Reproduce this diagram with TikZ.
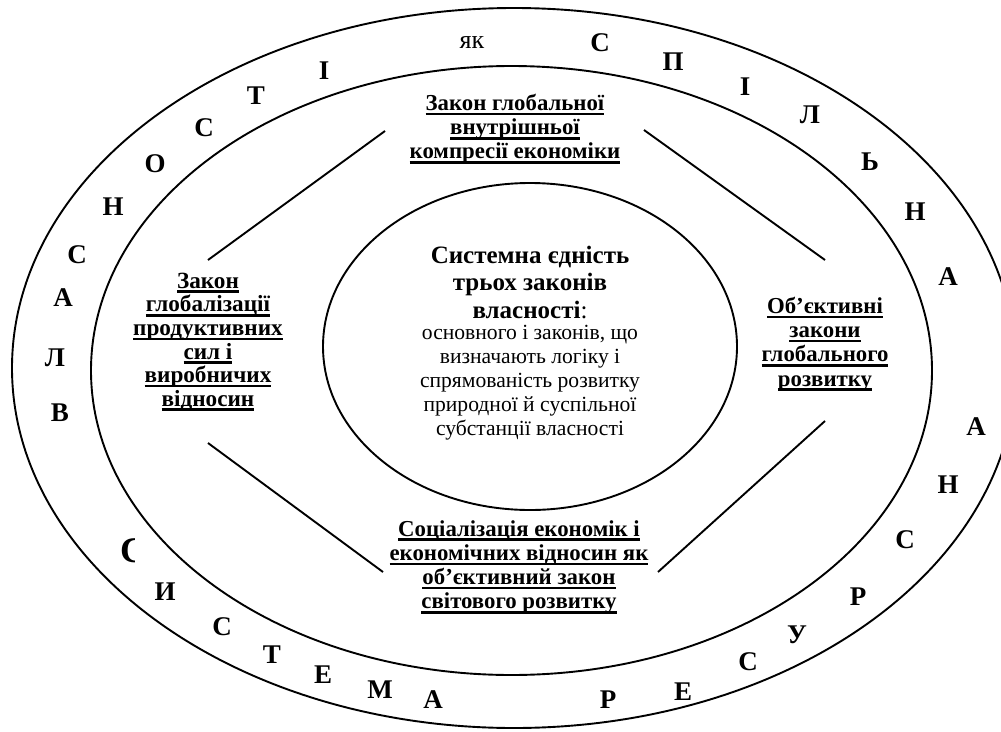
\documentclass[tikz,border=0pt]{standalone}
\usepackage{fontspec}
\setmainfont{Liberation Serif}
\newsavebox\ulbox
\newcommand\myul[1]{\sbox\ulbox{#1}\rlap{\rule[-4.8pt]{\wd\ulbox}{2.6pt}}\usebox\ulbox}
\begin{document}
\begin{tikzpicture}[x=1pt,y=-1pt,
  oval/.style={line width=1.9pt},
  link/.style={line width=1.9pt},
  ring/.style={font=\fontsize{27}{27}\selectfont\bfseries, inner sep=0pt},
  block/.style={font=\fontsize{22.8}{24.2}\selectfont\bfseries, align=center, inner sep=0pt},
  corehead/.style={font=\fontsize{25}{27.5}\selectfont\bfseries, align=center, inner sep=0pt},
  corebody/.style={font=\fontsize{21.6}{24}\selectfont, align=center, inner sep=0pt}]
\useasboundingbox (0,0) rectangle (1001,731);
\clip (0,0) rectangle (1001,731);
% ellipses
\draw[oval] (514,368) ellipse [x radius=502, y radius=360];
\draw[oval] (511.5,370.5) ellipse [x radius=420.5, y radius=304.5];
\draw[oval] (530,346.5) ellipse [x radius=207, y radius=163.5];
% text blocks
\node[block] (top) at (515,129) {\myul{Закон глобальної}\\\myul{внутрішньої}\\\myul{компресії економіки}};
\node[block, font=\fontsize{23.2}{23.6}\selectfont\bfseries] (left) at (208,342) {\myul{Закон}\\\myul{глобалізації}\\\myul{продуктивних}\\\myul{сил і}\\\myul{виробничих}\\\myul{відносин}};
\node[block] (right) at (825,344) {\myul{Об’єктивні}\\\myul{закони}\\\myul{глобального}\\\myul{розвитку}};
\node[block] (bottom) at (519,567) {\myul{Соціалізація економік і}\\\myul{економічних відносин як}\\\myul{об’єктивний закон}\\\myul{світового розвитку}};
\node[corehead] (coreh) at (530,282) {Системна єдність\\трьох законів\\власності\textmd{:}};
\node[corebody] (coreb) at (530,383) {основного і законів, що\\визначають логіку і\\спрямованість розвитку\\природної й суспільної\\субстанції власності};
% connector end points
\coordinate (a1) at (385,131); \coordinate (a2) at (208,260);
\coordinate (b1) at (644,130); \coordinate (b2) at (825,260);
\coordinate (c1) at (208,443); \coordinate (c2) at (383,572);
\coordinate (d1) at (825,421); \coordinate (d2) at (658,572);
\draw[link] (a1) -- (a2);
\draw[link] (b1) -- (b2);
\draw[link] (c1) -- (c2);
\draw[link] (d1) -- (d2);
% ring letters
\node[ring, font=\fontsize{26}{26}\selectfont\mdseries] (r0) at (472,43) {як};
\node[ring] (r1) at (324,71) {І};
\node[ring] (r2) at (256,96) {Т};
\node[ring] (r3) at (204,128) {С};
\node[ring] (r4) at (155,164) {О};
\node[ring] (r5) at (113,207) {Н};
\node[ring] (r6) at (77,255) {С};
\node[ring] (r7) at (63,298) {А};
\node[ring] (r8) at (55,358) {Л};
\node[ring] (r9) at (60,413) {В};
\begin{scope}
\clip (119,536) rectangle (134,567);
\node[ring, font=\fontsize{36}{36}\selectfont\bfseries, anchor=west] (r10) at (120,551) {С};
\end{scope}
\node[ring] (r11) at (165,592) {И};
\node[ring] (r12) at (222,627) {С};
\node[ring] (r13) at (272,655) {Т};
\node[ring] (r14) at (323,675) {Е};
\node[ring] (r15) at (380,690) {М};
\node[ring] (r16) at (433,700) {А};
\node[ring] (r17) at (608,700) {Р};
\node[ring] (r18) at (683,692) {Е};
\node[ring] (r19) at (748,662) {С};
\node[ring] (r20) at (797,635) {У};
\node[ring] (r21) at (858,597) {Р};
\node[ring] (r22) at (905,540) {С};
\node[ring] (r23) at (948,485) {Н};
\node[ring] (r24) at (976,427) {А};
\node[ring] (r25) at (948,277) {А};
\node[ring] (r26) at (915,212) {Н};
\node[ring] (r27) at (870,162) {Ь};
\node[ring] (r28) at (810,115) {Л};
\node[ring] (r29) at (745,87) {І};
\node[ring] (r30) at (673,62) {П};
\node[ring] (r31) at (600,43) {С};
\end{tikzpicture}
\end{document}
